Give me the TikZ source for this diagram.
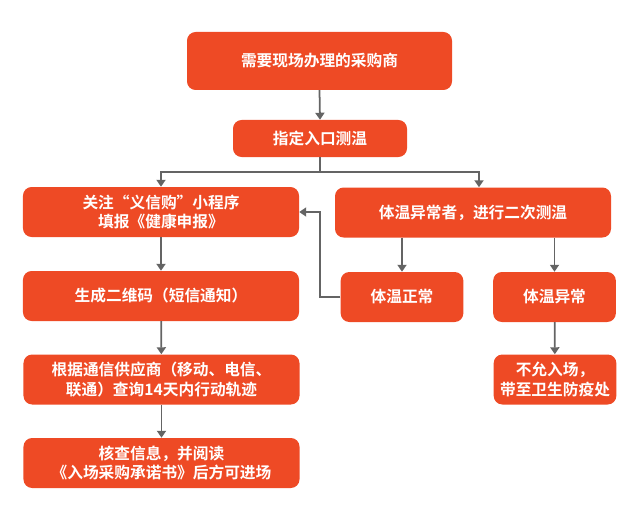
\documentclass[tikz,border=0pt]{standalone}
\usepackage{fontspec}
\newfontfamily\cjk{Noto Sans CJK SC}[BoldFont={Noto Sans CJK SC Bold}]
\usepackage{tikz}
\usetikzlibrary{arrows.meta, positioning}
\definecolor{boxred}{HTML}{EE4A25}
\definecolor{linegray}{HTML}{646464}

\begin{document}
\begin{tikzpicture}[
    x=0.3mm, y=-0.3mm,
    font=\cjk\bfseries\fontsize{13.4}{17}\selectfont,
    stepbox/.style={fill=boxred, rounded corners=2.6mm, text=white, align=center,
        inner sep=0pt, minimum width=82.8mm, minimum height=15mm},
    smallbox/.style={stepbox, minimum width=36.8mm},
    arrow/.style={-{Triangle[width=2.7mm, length=2.1mm]}, line width=1.5pt, draw=linegray},
    plain/.style={line width=1.5pt, draw=linegray}
]
\useasboundingbox (0,0) rectangle (640,519);

% Arrival and first check
\node[stepbox, minimum width=79.5mm, minimum height=17.4mm] (buyer) at (319.5,61) {需要现场办理的采购商};
\node[stepbox, minimum width=52.2mm, minimum height=11.1mm] (entry) at (320,138.5) {指定入口测温};

% Left column: normal procedure
\node[stepbox] (follow) at (161,212) {关注“义信购”小程序\\填报《健康申报》};
\node[stepbox] (qrcode) at (161,296) {生成二维码（短信通知）};
\node[stepbox] (track)  at (161.5,379.5) {根据通信供应商（移动、电信、\\联通）查询14天内行动轨迹};
\node[stepbox] (verify) at (161.5,463) {核查信息，并阅读\\《入场采购承诺书》后方可进场};

% Right column: second measurement
\node[stepbox] (recheck) at (473,212.5) {体温异常者，进行二次测温};
\node[smallbox] (normal)   at (402,297) {体温正常};
\node[smallbox] (abnormal) at (554.5,297) {体温异常};
\node[smallbox] (deny)     at (555,379.5) {不允入场，\\带至卫生防疫处};

% Connections
\coordinate (split) at (320,172);
\coordinate (bend) at (320,297);
\draw[arrow] (buyer.south) -- (entry.north);
\draw[plain] (entry.south) -- (split);
\draw[arrow] (split) -| (follow.north);
\draw[arrow] (split) -| ([xshift=1.8mm]recheck.north);
\draw[arrow] (follow) -- (qrcode);
\draw[arrow] (qrcode) -- (track);
\draw[arrow] (track) -- (verify);
\draw[arrow] (recheck.south -| normal.north) -- (normal.north);
\draw[arrow] (recheck.south -| abnormal.north) -- (abnormal.north);
\draw[arrow] (abnormal) -- (deny);
% Normal temperature goes back to the registration step
\draw[arrow] (normal.west) -- (bend) |- (follow.east);

\end{tikzpicture}
\end{document}
